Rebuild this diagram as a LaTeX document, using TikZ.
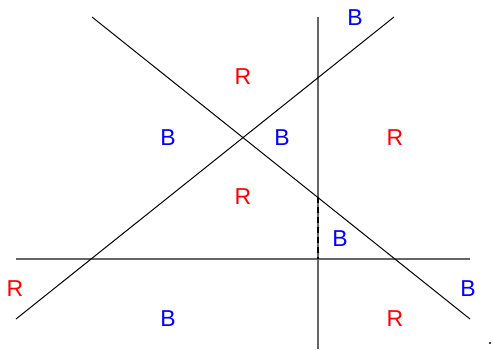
\documentclass[tikz,border=0pt]{standalone}
\usepackage{fontspec}
\setmainfont{Liberation Sans}
\usepackage{xcolor}
\usepackage{tikz}

\begin{document}
\begin{tikzpicture}[x=1pt, y=-1pt, font=\fontsize{23}{27}\selectfont,
  redlab/.style={text=red, inner sep=0pt},
  bluelab/.style={text=blue, inner sep=0pt},
  cut/.style={line width=1pt, black},
  axis/.style={line width=1.4pt, black!60}]
\useasboundingbox (0,0) rectangle (494,349);
% end points of the lines
\coordinate (d1) at (92,17);
\coordinate (d2) at (470,319);
\coordinate (a1) at (16,319);
\coordinate (a2) at (394,17);
\coordinate (v1) at (318,17);
\coordinate (v2) at (318,349);
\coordinate (h1) at (16,259);
\coordinate (h2) at (470,259);
\coordinate (m1) at (318,197);
\coordinate (m2) at (318,259);
\draw[axis] (v1) -- (v2);
\draw[axis] (h1) -- (h2);
\draw[cut] (d1) -- (d2);
\draw[cut] (a1) -- (a2);
\draw[cut, line width=1.6pt, dash pattern=on 6pt off 4pt] (m1) -- (m2);
% region labels
\node[bluelab] (b1) at (355,18) {B};
\node[redlab] (r1) at (243,77) {R};
\node[bluelab] (b2) at (168,138) {B};
\node[bluelab] (b3) at (282,138) {B};
\node[redlab] (r2) at (395,138) {R};
\node[redlab] (r3) at (243,197) {R};
\node[bluelab] (b4) at (340,239) {B};
\node[redlab] (r4) at (15,289) {R};
\node[bluelab] (b5) at (468,289) {B};
\node[bluelab] (b6) at (168,319) {B};
\node[redlab] (r5) at (395,319) {R};
\fill (490,343) circle (1.2pt);
\end{tikzpicture}
\end{document}
